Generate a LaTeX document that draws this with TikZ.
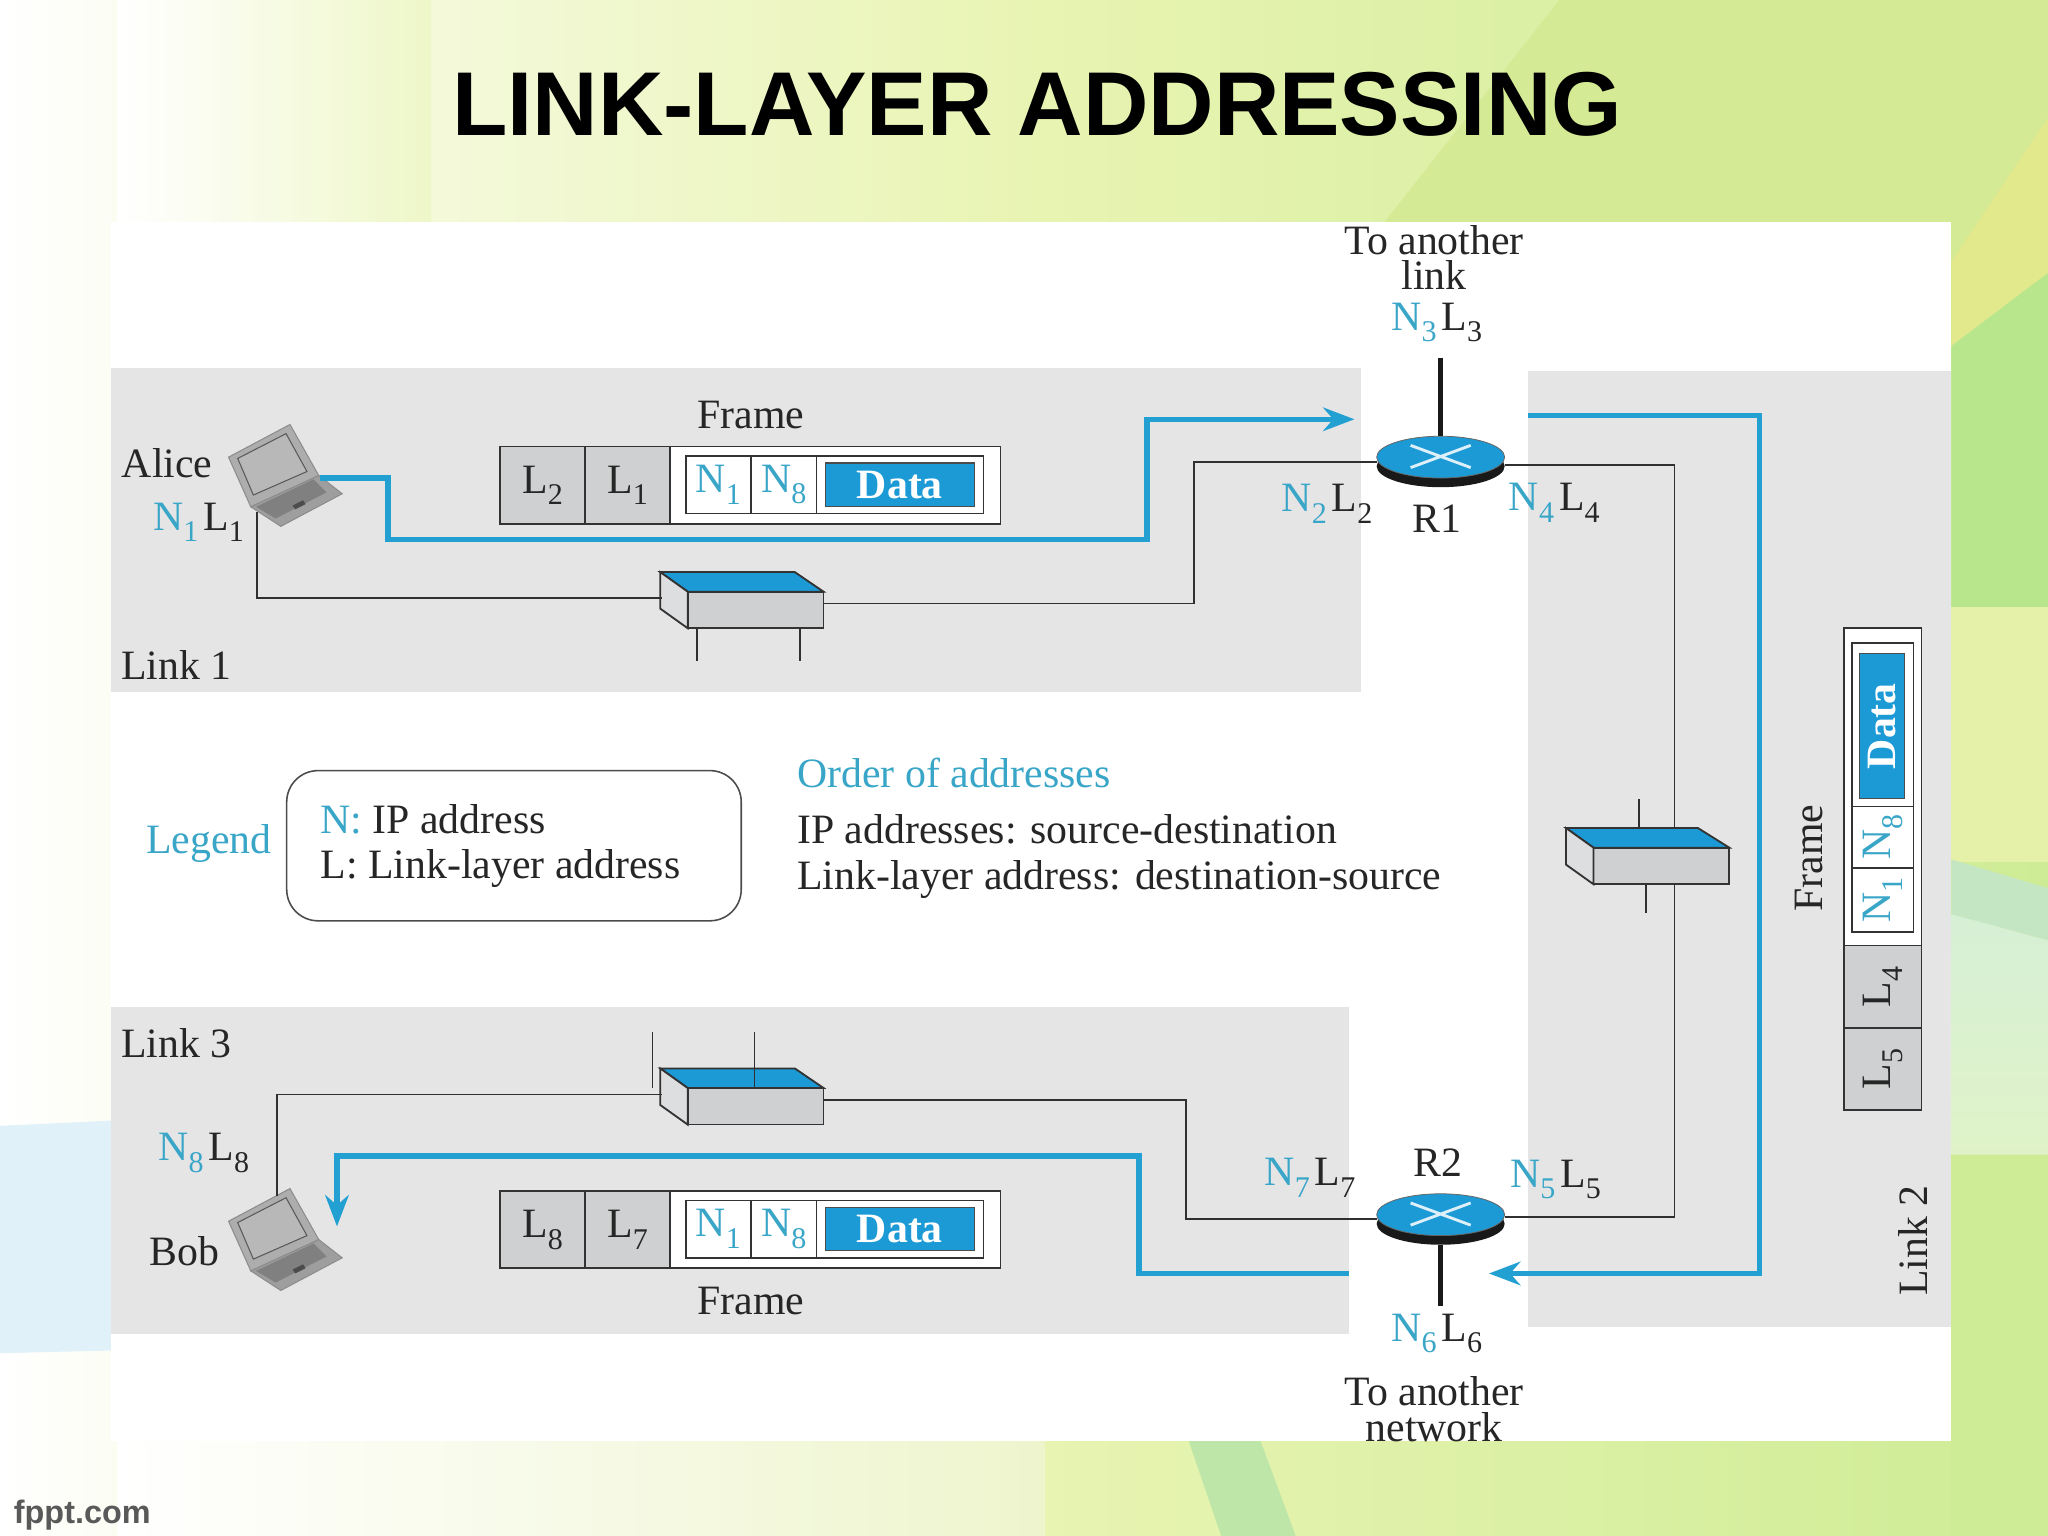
\documentclass[tikz,border=0pt]{standalone}
\usepackage{fontspec}
\setmainfont{Liberation Serif}
\newfontfamily\sansfam{Liberation Sans}
\usepackage{tikz}
\usetikzlibrary{positioning,shapes.geometric,arrows.meta}

\definecolor{netblue}{HTML}{1B9AD6}
\definecolor{pathblue}{HTML}{22A0D2}
\definecolor{addrblue}{HTML}{39A6C8}
\definecolor{linkgray}{HTML}{E5E5E6}
\definecolor{cellgray}{HTML}{CFD0D1}
\definecolor{wire}{HTML}{303030}
\definecolor{bgleft}{HTML}{F8FBE8}
\definecolor{bgmid}{HTML}{E8F4B2}
\definecolor{bgright}{HTML}{CEEC96}
\definecolor{bgtop}{HTML}{EEF7C8}
\definecolor{bgbot}{HTML}{EEF5CD}
\definecolor{sideblue}{HTML}{E0F1FA}
\definecolor{swoosh}{HTML}{D4EA94}
\definecolor{swooshy}{HTML}{E2E88C}
\definecolor{sidegreen}{HTML}{B8E68C}
\definecolor{sideyellow}{HTML}{E5F0A8}
\definecolor{sideteal}{HTML}{C5E6C2}
\definecolor{sidepalea}{HTML}{D6F0D6}
\definecolor{sidepaleb}{HTML}{E0F3C8}
\definecolor{stripe}{HTML}{BEE6A8}

\newcommand{\lowidx}[1]{\raisebox{-.28em}{\fontsize{11.5}{11.5}\selectfont #1}}
\newcommand{\netaddr}[1]{\textcolor{addrblue}{N\lowidx{#1}}}
\newcommand{\hwaddr}[1]{L\lowidx{#1}}
\newcommand{\portpair}[2]{\netaddr{#1}\hspace{.12em}\hwaddr{#2}}

% roof and side of a switch, its node being the front
\newcommand{\switchbody}[2]{
\filldraw[swline,fill=netblue] (#1.north west) -- ++(-21,-15) -- ++(#2,0) -- (#1.north east) -- cycle;
\filldraw[swline,fill=cellgray!70] (#1.north west) -- ++(-21,-15) -- ++(0,28) -- (#1.south west) -- cycle;
}

\tikzset{
laptop/.pic={
\filldraw[draw=black!45,fill=black!38] (-28,23) -- (24,-1) -- (42,13) -- (-5,38) -- cycle;
\fill[black!50] (-24,23) -- (20,2) -- (30,12) -- (-9,32) -- cycle;
\filldraw[draw=black!45,fill=black!32] (-45,-15) -- (2,-40) -- (24,-1) -- (-28,23) -- cycle;
\filldraw[draw=black!65,fill=black!28] (-38,-14) -- (-1,-33) -- (15,-4) -- (-26,14) -- cycle;
\fill[black!70] (4,22) -- (12,18) -- (14,21) -- (6,25) -- cycle;
}
}

\begin{document}
\begin{tikzpicture}[
x=0.5pt,y=-0.5pt,
every node/.style={font=\fontsize{16}{16}\selectfont,text=black!85},
linkzone/.style={fill=linkgray},
swline/.style={draw=black!80,line width=0.7pt},
switch/.style={rectangle,swline,fill=cellgray,minimum width=52pt,minimum height=14pt,inner sep=0pt,outer sep=0pt},
stick/.style={draw=wire,line width=0.6pt},
wireline/.style={draw=wire,line width=0.7pt},
uplink/.style={draw=black!90,line width=2pt},
bluepath/.style={draw=pathblue,line width=2.1pt,line join=miter},
blueend/.style={bluepath,-{Stealth[length=12pt,width=9pt]}},
routerbase/.style={ellipse,fill=black!90,minimum width=49pt,minimum height=16pt,inner sep=0pt},
router/.style={ellipse,fill=netblue,draw=black!60,line width=0.3pt,minimum width=49pt,minimum height=16pt,inner sep=0pt,outer sep=0pt},
cross/.style={draw=white!85!netblue,line width=1.1pt},
addrcell/.style={rectangle,draw=black!80,line width=0.6pt,fill=cellgray,minimum width=32.5pt,minimum height=29.5pt,inner sep=0pt,outer sep=0pt},
bodycell/.style={rectangle,draw=black!80,line width=0.6pt,fill=white,minimum width=126.5pt,minimum height=29.5pt,inner sep=0pt,outer sep=0pt},
ipcell/.style={rectangle,draw=black!80,line width=0.6pt,fill=white,minimum width=25pt,minimum height=22pt,inner sep=0pt,outer sep=0pt},
tailcell/.style={ipcell,minimum width=64pt},
datacell/.style={rectangle,draw=black!70,fill=netblue,text=white,minimum width=57pt,minimum height=16.5pt,inner sep=0pt,font=\fontsize{16}{16}\selectfont\bfseries},
]
\useasboundingbox (0,0) rectangle (1568,1176);

%Background
\shade[left color=white,right color=bgleft] (0,0) rectangle (170,1176);
\shade[left color=bgleft,right color=bgmid] (170,0) rectangle (800,1176);
\shade[left color=bgmid,right color=bgright] (800,0) rectangle (1568,1176);
\shade[left color=white,right color=bgtop] (90,0) rectangle (330,170);
\shade[left color=white,right color=bgbot] (90,1103) rectangle (800,1176);
\fill[sideblue] (0,862) -- (85,858) -- (85,1034) -- (0,1036) -- cycle;
\fill[swoosh] (1194,0) -- (1568,0) -- (1568,209) -- (1494,265) -- (1494,170) -- (1060,170) -- cycle;
\fill[swooshy] (1568,90) -- (1568,209) -- (1494,265) -- (1494,200) -- cycle;
\fill[sidegreen] (1494,265) -- (1568,209) -- (1568,465) -- (1494,465) -- cycle;
\fill[sideyellow] (1494,465) rectangle (1568,660);
\fill[sideteal] (1494,658) -- (1568,680) -- (1568,720) -- (1494,700) -- cycle;
\shade[top color=sidepalea,bottom color=sidepaleb] (1494,700) -- (1568,720) -- (1568,884) -- (1494,884) -- cycle;
\fill[bgright] (1494,884) rectangle (1568,1176);
\fill[stripe] (910,1103) -- (965,1103) -- (992,1176) -- (935,1176) -- cycle;

%Panel and link zones
\fill[white] (85,170) rectangle (1494,1103);
\fill[linkzone] (85,282) rectangle (1042,530);
\fill[linkzone] (1170,284) rectangle (1494,1016);
\fill[linkzone] (85,771) rectangle (1033,1021);

\node[font=\fontsize{34.7}{36}\selectfont\sansfam\bfseries,text=black] (title) at (794,80) {LINK-LAYER ADDRESSING};

%Routers
\node[routerbase] (r1base) at (1103,357) {};
\node[router] (r1) at (1103,350) {};
\draw[cross] (1080,341) -- (1126,358) (1080,358) -- (1126,341);
\node[routerbase] (r2base) at (1103,937) {};
\node[router] (r2) at (1103,930) {};
\draw[cross] (1080,921) -- (1126,938) (1080,938) -- (1126,921);

%Switches
\coordinate (r1up) at (1103,274);
\coordinate (r2down) at (1103,1000);
\draw[uplink] (r1up) -- (r1.north);
\draw[uplink] (r2base.south) -- (r2down);
\draw[wireline] ([yshift=-3pt]r1.east) -| (1282,932) -- ([yshift=-1pt]r2.east);

\node[switch] (sw1) at (578.5,467) {};
\switchbody{sw1}{103}
\node[switch] (sw2) at (1272,663) {};
\switchbody{sw2}{101}
\node[switch] (sw3) at (578.5,847) {};
\switchbody{sw3}{103}

%Laptops
\pic at (220,365) {laptop};
\pic at (220,950) {laptop};
\coordinate (aliceport) at (197,392);
\coordinate (bobport) at (212,916);

%Lines
\draw[wireline] (aliceport) |- ([xshift=-10pt,yshift=4.5pt]sw1.west);
\draw[wireline] ([yshift=2.5pt]sw1.east) -| (914,354) -- ([yshift=-2pt]r1.west);
\draw[wireline] (bobport) |- ([xshift=-10pt,yshift=4.5pt]sw3.west);
\draw[wireline] ([yshift=2.5pt]sw3.east) -| (908,933) -- ([yshift=-1.5pt]r2.west);

\foreach \sx in {-22.5,17}
  \draw[stick] ([xshift=\sx pt]sw1.south) -- ++(0,25);
\foreach \sx in {-39.5,-0.5}
  \draw[stick] ([xshift=\sx pt]sw3.north) -- ++(0,-43);
\draw[stick] ([xshift=-6pt]sw2.north) ++(-5,-14) -- ++(0,-23);
\draw[stick] ([xshift=-6pt]sw2.south) -- ++(0,22);
\draw[stick] ([xshift=5pt]sw2.south) -- ++(0,22);

%Blue paths
\coordinate (aliceout) at (245,366);
\coordinate (r1in) at (1037,321);
\coordinate (r1out) at (1170,318);
\coordinate (r2in) at (1140,975);
\coordinate (r2out) at (1033,975);
\coordinate (bobin) at (258,939);
\draw[blueend] (aliceout) -| (297,413) -| (878,321) -- (r1in);
\draw[blueend] (r1out) -| (1347,975) -- (r2in);
\draw[blueend] (r2out) -| (872,885) -| (bobin);

%Frame above link 1
\node[addrcell,anchor=north west] (f1l2) at (383,342) {\hwaddr{2}};
\node[addrcell] (f1l1) [right=0pt of f1l2] {\hwaddr{1}};
\node[bodycell] (f1body) [right=0pt of f1l1] {};
\node[ipcell,anchor=north west] (f1n1) at (525,349) {\netaddr{1}};
\node[ipcell] (f1n8) [right=0pt of f1n1] {\netaddr{8}};
\node[tailcell] (f1tail) [right=0pt of f1n8] {};
\node[datacell] (f1data) at (f1tail) {Data};
\node (f1label) at (575,318) {Frame};

%Frame in link 3
\node[addrcell,anchor=north west] (f3l8) at (383,912) {\hwaddr{8}};
\node[addrcell] (f3l7) [right=0pt of f3l8] {\hwaddr{7}};
\node[bodycell] (f3body) [right=0pt of f3l7] {};
\node[ipcell,anchor=north west] (f3n1) at (525,919) {\netaddr{1}};
\node[ipcell] (f3n8) [right=0pt of f3n1] {\netaddr{8}};
\node[tailcell] (f3tail) [right=0pt of f3n8] {};
\node[datacell] (f3data) at (f3tail) {Data};
\node (f3label) at (575,996) {Frame};

%Frame in link 2
\node[addrcell,rotate=90,minimum width=31.5pt] (f2l5) at (1441.5,818.5) {\hwaddr{5}};
\node[addrcell,rotate=90,minimum width=31.5pt] (f2l4) at (1441.5,755.5) {\hwaddr{4}};
\node[bodycell,rotate=90,minimum width=121.5pt] (f2body) at (1441.5,602.5) {};
\node[ipcell,rotate=90,minimum width=24.5pt,minimum height=23.5pt] (f2n1) at (1441.5,689) {\netaddr{1}};
\node[ipcell,rotate=90,minimum width=23.5pt,minimum height=23.5pt] (f2n8) at (1441.5,641) {\netaddr{8}};
\node[ipcell,rotate=90,minimum width=62.5pt,minimum height=23.5pt] (f2tail) at (1441.5,555) {};
\node[datacell,rotate=90,minimum width=55.5pt,minimum height=17pt] (f2data) at (1441,556) {Data};
\node[rotate=90] (f2label) at (1385,657) {Frame};

%Labels
\node[align=center,inner sep=0pt,font=\fontsize{16}{13.5}\selectfont] (toplink) at (1098,197) {To another\\link};
\node[align=center,inner sep=0pt,font=\fontsize{16}{13.5}\selectfont] (botnet) at (1098,1079) {To another\\network};
\node (n3) at (1100,247) {\portpair{3}{3}};
\node (n2) at (1016,386) {\portpair{2}{2}};
\node (n4) at (1190,385) {\portpair{4}{4}};
\node (n1) at (152,400) {\portpair{1}{1}};
\node (n8) at (156,883) {\portpair{8}{8}};
\node (n7) at (1003,902) {\portpair{7}{7}};
\node (n5) at (1191,903) {\portpair{5}{5}};
\node (n6) at (1100,1021) {\portpair{6}{6}};
\node (r1name) at (1100,397) {R1};
\node (r2name) at (1101,890) {R2};
\node (alice) at (128,355) {Alice};
\node (bob) at (141,958) {Bob};
\node (link1) at (135,509) {Link 1};
\node (link3) at (135,799) {Link 3};
\node[rotate=90] (link2) at (1465,950) {Link 2};

%Legend
\node[text=addrblue] (legendname) at (160,646) {Legend};
\node[rectangle,rounded corners=12pt,draw=black!70,line width=0.6pt,minimum width=174pt,minimum height=57.5pt,inner sep=0pt] (legendbox) at (393.5,647.5) {};
\node[anchor=west,inner sep=0pt] (legendn) at (245,627) {\textcolor{addrblue}{N:} IP address};
\node[anchor=west,inner sep=0pt] (legendl) at (245,665) {L: Link-layer address};
\node[anchor=west,inner sep=0pt,text=addrblue] (ordertitle) at (610,592) {Order of addresses};
\node[anchor=west,inner sep=0pt] (orderip) at (610,635) {IP addresses: source-destination};
\node[anchor=west,inner sep=0pt] (orderll) at (610,673) {Link-layer address: destination-source};

\node[font=\fontsize{12.4}{13}\selectfont\sansfam\bfseries,text=black!65] (fppt) at (63,1160) {fppt.com};
\end{tikzpicture}
\end{document}
